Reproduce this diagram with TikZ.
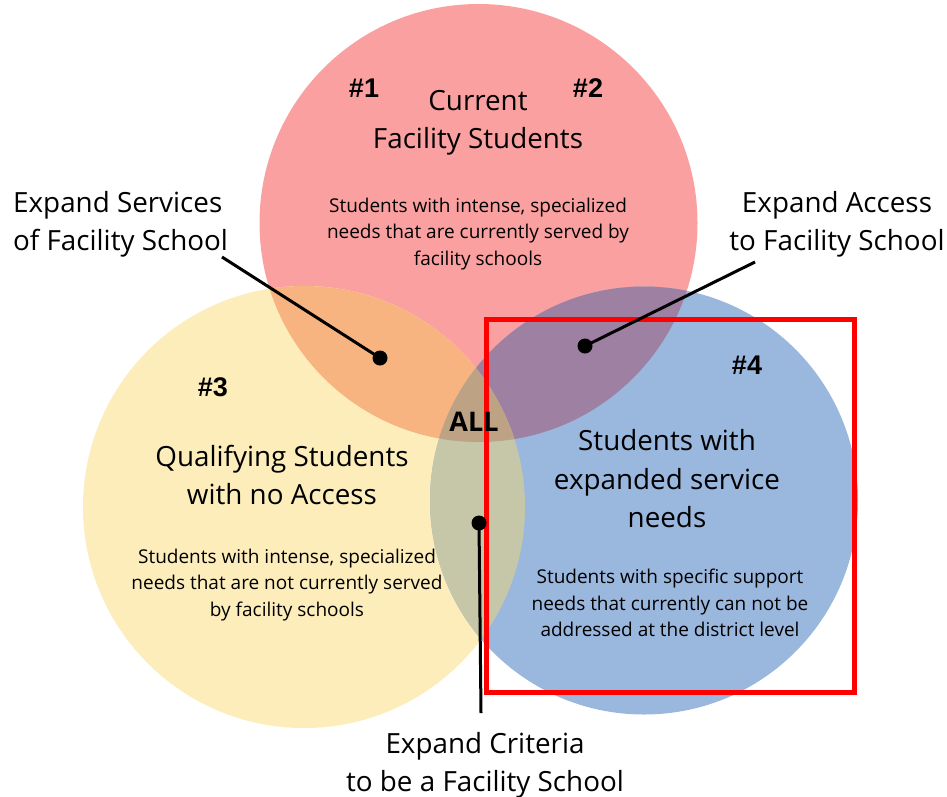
\documentclass[tikz,border=0pt]{standalone}
\usepackage{fontspec}
\setmainfont{Open Sans}
\newfontfamily\numfont{Liberation Sans}
\definecolor{cred}{RGB}{250,160,160}
\definecolor{cyel}{RGB}{252,237,187}
\definecolor{cblue}{RGB}{154,183,222}
\definecolor{cry}{RGB}{248,180,128}
\definecolor{crb}{RGB}{158,128,163}
\definecolor{cyb}{RGB}{197,199,168}
\definecolor{call}{RGB}{190,162,132}
\definecolor{cbox}{RGB}{255,0,0}
\begin{document}
\begin{tikzpicture}[x=1pt,y=-1pt,
  big/.style={font=\fontsize{27.8}{38}\selectfont, align=center, inner sep=0pt},
  small/.style={font=\fontsize{19}{26.5}\selectfont, align=center, inner sep=0pt},
  num/.style={font=\numfont\bfseries\fontsize{27}{30}\selectfont, inner sep=0pt},
  dot/.style={circle, fill=black, inner sep=0pt, minimum size=15pt},
  conn/.style={line width=3pt, black}]
\useasboundingbox (0,0) rectangle (947,796);
\fill[white] (0,0) rectangle (947,796);
\def\cR{(478.5,223) circle (219)}
\def\cY{(304,507) circle (221)}
\def\cB{(644,500.5) circle (214)}
\fill[cred] \cR;
\fill[cyel] \cY;
\fill[cblue] \cB;
\begin{scope}\clip \cR; \fill[cry] \cY; \end{scope}
\begin{scope}\clip \cR; \fill[crb] \cB; \end{scope}
\begin{scope}\clip \cY; \fill[cyb] \cB; \end{scope}
\begin{scope}\clip \cR; \clip \cY; \fill[call] \cB; \end{scope}

% red box
\draw[cbox, line width=5pt] (486.5,319) rectangle (854.5,692);

% titles
\node[big] (tR) at (478,123) {Current\\Facility Students};
\node[small] (sR) at (478,234) {Students with intense, specialized\\needs that are currently served by\\facility schools};
\node[big] (tY) at (282,475) {Qualifying Students\\with no Access};
\node[small] (sY) at (287,585) {Students with intense, specialized\\needs that are not currently served\\by facility schools};
\node[big, font=\fontsize{27.8}{38.5}\selectfont] (tB) at (667,479) {Students with\\expanded service\\needs};
\node[small] (sB) at (670,603) {Students with specific support\\needs that currently can not be\\addressed at the district level};

\node[num] (n1) at (364,88) {\#1};
\node[num] (n2) at (588,88) {\#2};
\node[num] (n3) at (213,387) {\#3};
\node[num] (n4) at (747,365) {\#4};
\node[font=\bfseries\fontsize{27}{30}\selectfont, inner sep=0pt] (all) at (474,422) {ALL};

% labels
\node[big, align=left, anchor=west] (lS) at (13,224) {Expand Services\\of Facility School};
\node[big] (lA) at (837,224) {Expand Access\\to Facility School};
\node[big] (lC) at (485,765) {Expand Criteria\\to be a Facility School};

% connectors
\node[dot] (d1) at (380,358) {};
\node[dot] (d2) at (585,346) {};
\node[dot] (d3) at (479,523) {};
\coordinate (e1) at (222,257);
\coordinate (e2) at (755,262);
\coordinate (e3) at (481,713);
\draw[conn] (e1) -- (d1.center);
\draw[conn] (e2) -- (d2.center);
\draw[conn] (d3.center) -- (e3);
\end{tikzpicture}
\end{document}
